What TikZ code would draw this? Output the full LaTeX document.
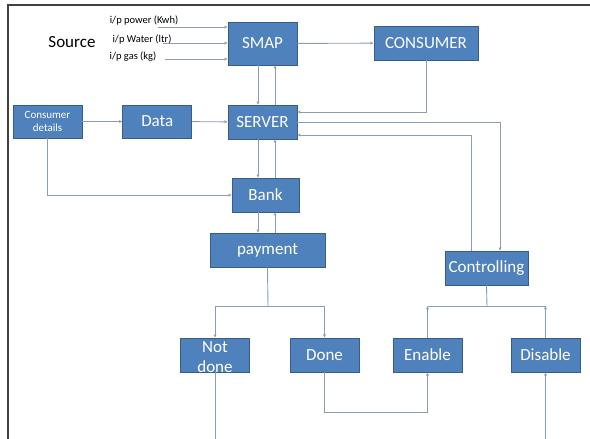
\documentclass[tikz,border=0pt]{standalone}
\usepackage{fontspec}
\setmainfont{Carlito}
\usepackage{tikz}
\usetikzlibrary{arrows.meta,positioning}
\definecolor{boxblue}{HTML}{4F81BD}
\definecolor{boxedge}{HTML}{385D8A}
\definecolor{wire}{HTML}{8C9DB2}
\definecolor{frame}{HTML}{404040}
\tikzset{box/.style={draw=boxedge,line width=.8pt,fill=boxblue,text=white,inner sep=0pt,minimum height=34pt,minimum width=69pt,font=\fontsize{17}{20}\selectfont},smallbox/.style={box,font=\fontsize{11}{13}\selectfont,align=center},inlabel/.style={inner sep=0pt,font=\fontsize{10.5}{12}\selectfont},link/.style={-{Stealth[length=3.5pt,width=3pt]},draw=wire,line width=.9pt},wireline/.style={draw=wire,line width=.9pt},border/.style={draw=frame,line width=1.5pt}}

\begin{document}
\begin{tikzpicture}[x=1pt,y=-1pt,node distance=40pt]
\useasboundingbox (0,0) rectangle (590,439);
\clip (0,0) rectangle (590,439);
\draw[border] (8,439) -- (8,5) -- (590,5);
\node[font=\fontsize{17}{20}\selectfont] (source) at (72,42) {Source};
\node[inlabel] (inpower) at (144,21) {i/p power (Kwh)};
\node[inlabel] (inwater) at (142,40) {i/p Water (ltr)};
\node[inlabel] (ingas) at (133,57) {i/p gas (kg)};
\node[box,minimum height=43pt] (smap) at (262.5,43.5) {SMAP};
\node[box,minimum width=104pt] (consumer) at (426,43) {CONSUMER};
\node[smallbox,minimum height=33pt] (details) at (47.5,121.5) {Consumer\\details};
\node[box,minimum height=33pt,right=of details] (data) {Data};
\node[box] (server) at (262.5,122) {SERVER};
\node[box,minimum width=67pt] (bank) at (265.5,195) {Bank};
\node[box,minimum width=115pt] (payment) at (267.5,250) {payment};
\node[box,minimum width=83pt] (ctrl) at (486.5,268) {Controlling};
\node[box] (notdone) at (215,355) {\smash{\raisebox{-8pt}{\begin{tabular}[c]{@{}c@{}}Not\\done\end{tabular}}}};
\node[box] (done) at (324.5,355) {Done};
\node[box] (enable) at (427.5,355) {Enable};
\node[box] (disable) at (545.5,355) {Disable};
% inputs
\coordinate (pw) at (158,27);
\coordinate (wt) at (163,43);
\coordinate (gs) at (165,59);
\draw[link] (pw) -- (pw -| smap.west);
\draw[link] (wt) -- (wt -| smap.west);
\draw[link] (gs) -- (gs -| smap.west);
% up and down the middle
\coordinate (xa) at (258,0);
\coordinate (xb) at (275,0);
\draw[link] (smap.south -| xa) -- (server.north -| xa);
\draw[link] (server.north -| xb) -- (smap.south -| xb);
\draw[link] (server.south -| xa) -- (bank.north -| xa);
\draw[link] (bank.north -| xb) -- (server.south -| xb);
\draw[link] (bank.south -| xa) -- (payment.north -| xa);
\draw[link] (payment.north -| xb) -- (bank.south -| xb);
\draw[link] (smap) -- (consumer);
\draw[link] (consumer.south) |- ([yshift=10pt]server.east);
\draw[link] (details) -- (data);
\draw[link] (data) -- (server);
\draw[link] (details.south) |- (bank.west);
\draw[link] (server.east) -| ([xshift=13.5pt]ctrl.north);
\draw[link] ([xshift=-15.5pt]ctrl.north) |- ([yshift=-13pt]server.east);
% payment result
\coordinate (pbar) at (268,306);
\draw[wireline] (payment.south) -- (pbar);
\draw[link] (pbar) -| (notdone.north);
\draw[link] (pbar) -| (done.north);
% control result
\coordinate (cbar) at (487,306);
\draw[wireline] (ctrl.south) -- (cbar);
\draw[wireline] (enable.north |- cbar) -- (disable.north |- cbar);
\draw[link] (enable.north) -- (enable.north |- cbar);
\draw[link] (disable.north) -- (disable.north |- cbar);
\coordinate (dloop) at (0,412);
\coordinate (nloop) at (0,447);
\draw[link] (done.south) |- (enable.south |- dloop) -- (enable.south);
\draw[link] (notdone.south) |- (disable.south |- nloop) -- (disable.south);
\end{tikzpicture}
\end{document}
